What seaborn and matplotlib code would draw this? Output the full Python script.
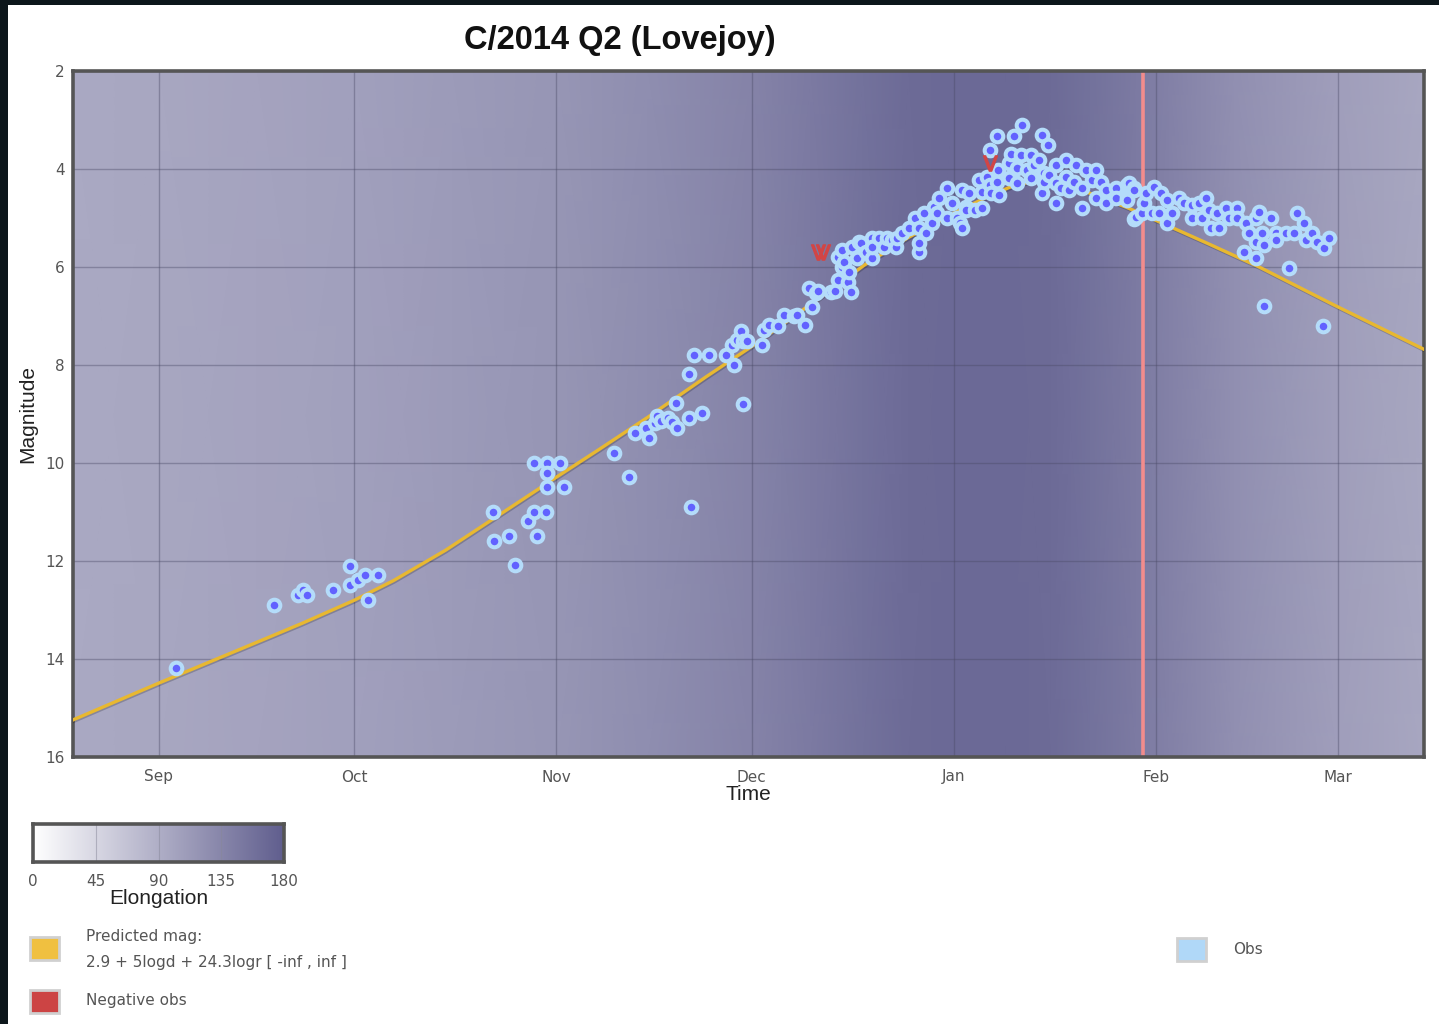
import matplotlib
matplotlib.use("Agg")
import matplotlib.pyplot as plt
import matplotlib.dates as mdates
import matplotlib.patheffects as pe
from matplotlib.colors import LinearSegmentedColormap
from matplotlib.patches import Rectangle
import numpy as np
import pandas as pd
import seaborn as sns

# days counted from 2014-09-01
base = pd.Timestamp("2014-09-01")
day_min, day_max = -13.2, 194.2

obs_day = [
    2.6, 17.6, 21.3, 22.1, 22.7, 26.7, 29.4, 29.4, 30.5, 31.7, 32.1, 33.6,
    51.2, 51.5, 53.7, 54.6, 56.6, 57.5, 57.5, 58.1, 59.4, 59.5, 59.5, 59.5, 61.5, 62.1,
    69.9, 72.2, 73.0, 74.8, 75.2, 76.1, 76.5, 77.1, 78.1, 78.7, 79.4, 79.6, 81.3, 81.4, 81.6, 82.2, 83.3, 84.5,
    87.0, 88.0, 88.3, 88.8, 89.4, 89.6, 89.7, 90.2, 92.5, 92.9, 93.7, 95.1, 95.9, 97.5, 98.0, 99.2, 99.8, 100.2, 100.9,
    101.1, 103.2, 103.8, 104.3, 104.3, 104.8, 104.9, 105.2, 105.7, 106.0, 106.3, 106.4, 107.2, 107.4, 107.8,
    108.6, 109.4, 109.4, 109.5, 110.6, 111.3, 111.8, 112.6, 113.2, 113.3, 114.1, 115.2, 116.0, 116.6, 116.6,
    116.7, 117.5, 117.8, 118.6, 119.0, 119.5, 119.8, 120.9, 120.9, 121.8, 122.5, 122.9, 123.3, 123.3, 123.9, 123.9,
    124.4, 125.2, 125.9, 126.4, 126.4, 127.1, 127.5, 127.6, 127.8, 128.7, 128.7, 128.8, 129.0, 130.5, 130.5,
    130.8, 131.3, 131.7, 131.7, 132.4, 132.5, 133.3, 133.9, 133.9, 134.4, 135.1, 135.6, 135.6, 135.9, 135.9,
    136.5, 136.7, 137.7, 137.7, 137.7, 138.5, 139.3, 139.3, 139.7, 140.5, 140.8, 141.7, 141.7, 142.3, 143.3,
    143.9, 143.9, 144.6, 145.4, 145.4, 146.9, 146.9, 148.6, 148.6, 148.6, 148.9, 149.7, 149.7, 149.7, 150.0,
    150.9, 151.2, 151.5, 152.5, 152.8, 153.5, 153.8, 154.8, 154.8, 155.5, 156.6, 157.4, 158.6, 158.6, 159.7,
    160.1, 160.7, 161.2, 161.5, 162.4, 162.7, 163.8, 164.3, 165.5, 165.5, 166.6, 166.9, 167.3, 168.4, 168.4,
    168.4, 168.9, 169.3, 169.6, 169.6, 170.7, 171.5, 171.5, 173.0, 173.5, 174.2, 174.7, 175.8, 176.1, 177.0,
    177.8, 178.7, 178.8, 179.6,
]
obs_mag = [
    14.18, 12.90, 12.69, 12.59, 12.69, 12.59, 12.10, 12.49, 12.39, 12.29, 12.80, 12.29,
    11.00, 11.59, 11.49, 12.08, 11.18, 10.00, 11.00, 11.49, 11.00, 10.00, 10.20, 10.49, 10.00, 10.49,
    9.80, 10.29, 9.39, 9.29, 9.49, 9.18, 9.04, 9.14, 9.08, 9.16, 8.78, 9.29, 9.08, 8.18, 10.90, 7.80, 8.98, 7.80,
    7.80, 7.59, 8.00, 7.49, 7.31, 8.80, 7.51, 7.51, 7.59, 7.29, 7.18, 7.20, 6.98, 7.00, 6.98, 7.18, 6.43, 6.82, 6.53,
    6.49, 6.51, 6.49, 5.80, 6.27, 6.00, 5.65, 5.90, 6.31, 6.10, 6.51, 5.59, 5.82, 5.49, 5.51,
    5.69, 5.82, 5.41, 5.59, 5.41, 5.59, 5.41, 5.45, 5.59, 5.41, 5.31, 5.20, 5.00, 5.20, 5.69,
    5.51, 4.90, 5.31, 5.10, 4.78, 4.90, 4.59, 5.00, 4.39, 4.69, 5.00, 5.10, 5.20, 4.43, 4.78, 4.84,
    4.49, 4.84, 4.22, 4.80, 4.47, 4.16, 4.33, 3.61, 4.49, 3.33, 4.27, 4.02, 4.53, 3.88, 4.18,
    3.69, 3.33, 3.98, 4.29, 3.71, 3.10, 4.02, 3.71, 4.18, 3.92, 3.82, 3.31, 4.49, 4.08, 4.27,
    3.51, 4.12, 3.92, 4.29, 4.69, 4.39, 3.82, 4.16, 4.43, 4.27, 3.92, 4.39, 4.80, 4.02, 4.22,
    4.02, 4.59, 4.27, 4.43, 4.69, 4.39, 4.59, 4.59, 4.33, 4.63, 4.29, 4.39, 4.43, 5.02, 4.98,
    4.90, 4.69, 4.49, 4.90, 4.37, 4.90, 4.49, 5.10, 4.63, 4.90, 4.59, 4.69, 4.73, 5.00, 4.69,
    5.00, 4.59, 4.84, 5.20, 4.90, 5.20, 4.80, 5.00, 4.80, 5.00, 5.69, 5.10, 5.31, 5.00, 5.49,
    5.82, 4.88, 5.31, 5.55, 6.80, 5.00, 5.31, 5.45, 5.31, 6.02, 5.31, 4.90, 5.10, 5.45, 5.31,
    5.49, 7.20, 5.61, 5.41,
]

neg_day = [101.1, 102.0, 127.5]
neg_mag = [5.69, 5.69, 3.88]

pred_day = [-13.5, 0, 15, 22, 30, 36, 44, 51.2, 61, 67.6, 75, 84, 91, 100.9, 108.3, 115, 122,
            127, 131, 135, 139, 143, 148.5, 154.6, 161, 168.9, 180, 194.5]
pred_mag = [15.26, 14.49, 13.66, 13.27, 12.80, 12.40, 11.78, 11.15, 10.29, 9.72, 9.07, 8.24, 7.62,
            6.68, 5.96, 5.40, 4.90, 4.58, 4.35, 4.22, 4.30, 4.50, 4.78, 5.14, 5.52, 6.00, 6.75, 7.70]

elong_day = [-14, 0, 15, 30, 45, 61, 75, 91, 100, 108, 115, 122, 130, 137, 143, 150, 155, 165, 181, 195]
elong_deg = [96, 98, 102, 106, 112, 118, 126, 138, 148, 158, 165, 168, 168, 165, 158, 148, 140, 125, 108, 98]

perihelion_day = 151.1
elong_ticks = [0, 45, 90, 135, 180]

W, H = 1439, 1024
sns.set_style("white")
plt.rcParams["font.family"] = ["DejaVu Sans"]

fig = plt.figure(figsize=(W / 100, H / 100), dpi=100, facecolor="#0c161b")
fig.patches.append(Rectangle((8 / W, 0), 1, 1 - 5 / H, transform=fig.transFigure,
                             facecolor="white", edgecolor="none", zorder=-10))

pos = [73 / W, 1 - 757 / H, (1424 - 73) / W, (757 - 71) / H]

# elongation background on its own axes (plain day numbers)
cmap = LinearSegmentedColormap.from_list("elong", ["#ffffff", "#605e8e"])
bg = fig.add_axes(pos, zorder=0)
X, Y = np.meshgrid(elong_day, [0, 1])
C = np.vstack([elong_deg, elong_deg])
bg.pcolormesh(X, Y, C, cmap=cmap, vmin=0, vmax=180, shading="gouraud")
bg.set_xlim(day_min, day_max)
bg.set_ylim(0, 1)
bg.set_axis_off()

ax = fig.add_axes(pos, zorder=1)
ax.patch.set_alpha(0)

obs = pd.DataFrame({"date": base + pd.to_timedelta(obs_day, unit="D"), "mag": obs_mag})
pred = pd.DataFrame({"date": base + pd.to_timedelta(pred_day, unit="D"), "mag": pred_mag})

sns.lineplot(data=pred, x="date", y="mag", ax=ax, color="#e8b830", lw=2.4, zorder=3,
             path_effects=[pe.SimpleLineShadow(offset=(0.6, -1), alpha=0.2), pe.Normal()])
sns.scatterplot(data=obs, x="date", y="mag", ax=ax, s=70, color="#6262ff",
                edgecolor="#b4dcfa", linewidth=2.9, zorder=5, legend=False)
neg_dates = base + pd.to_timedelta(neg_day, unit="D")
ax.scatter(neg_dates, neg_mag, marker=r"$\mathsf{V}$", s=120, color="#d24545", zorder=6)

peri = base + pd.Timedelta(days=perihelion_day)
ax.axvline(peri, color="#f28c8c", lw=2.6, zorder=2)

ax.set_xlim(base + pd.Timedelta(days=day_min), base + pd.Timedelta(days=day_max))
ax.set_ylim(16, 2)
ax.set_yticks(range(2, 17, 2))
ax.xaxis.set_major_locator(mdates.MonthLocator())
ax.xaxis.set_major_formatter(mdates.DateFormatter("%b"))
ax.grid(True, color="#4a4a66", alpha=0.4, lw=1)
ax.tick_params(length=0, labelsize=11, labelcolor="#555555")
ax.tick_params(axis="x", pad=9)
ax.tick_params(axis="y", pad=6)
ax.set_xlabel("")
ax.set_ylabel("")
for s in ax.spines.values():
    s.set_color("#555555")
    s.set_linewidth(2.6)
    s.set_visible(True)

fig.text(620 / W, 1 - 40 / H, "C/2014 Q2 (Lovejoy)", ha="center", va="center",
         fontsize=23.5, fontweight="bold", family="Liberation Sans", color="#111111")
fig.text(748 / W, 1 - 795 / H, "Time", ha="center", va="center", fontsize=15,
         family="Liberation Sans", color="#222222")
fig.text(28 / W, 1 - 414 / H, "Magnitude", ha="center", va="center", fontsize=15,
         rotation=90, family="Liberation Sans", color="#222222")

# elongation colour bar
cax = fig.add_axes([33 / W, 1 - 862 / H, 251 / W, 38 / H])
cax.imshow(np.linspace(0, 180, 256).reshape(1, -1), cmap=cmap, vmin=0, vmax=180,
           aspect="auto", extent=(0, 180, 0, 1))
for v in elong_ticks[1:-1]:
    cax.axvline(v, color="#888899", lw=0.8, alpha=0.5)
cax.set_xticks(elong_ticks)
cax.set_yticks([])
cax.tick_params(length=0, labelsize=11, labelcolor="#555555", pad=9)
for s in cax.spines.values():
    s.set_color("#555555")
    s.set_linewidth(2.6)
    s.set_visible(True)
fig.text(159 / W, 1 - 899 / H, "Elongation", ha="center", va="center", fontsize=15,
         family="Liberation Sans", color="#222222")

# legend boxes
legend_boxes = [(30, 937, "#f0c040"), (30, 990, "#cc4444"), (1177, 938, "#b0d8f8")]
for x0, y0, c in legend_boxes:
    fig.patches.append(Rectangle((x0 / W, 1 - (y0 + 23) / H), 29 / W, 23 / H,
                                 transform=fig.transFigure, facecolor=c,
                                 edgecolor="#d0d0d0", lw=2, zorder=2))
fig.text(86 / W, 1 - 937 / H, "Predicted mag:", ha="left", va="center", fontsize=11, color="#555555")
fig.text(86 / W, 1 - 963 / H, "2.9 + 5logd + 24.3logr [ -inf , inf ]", ha="left", va="center",
         fontsize=11, color="#555555")
fig.text(86 / W, 1 - 1001 / H, "Negative obs", ha="left", va="center", fontsize=11, color="#555555")
fig.text(1233 / W, 1 - 949 / H, "Obs", ha="left", va="center", fontsize=11, color="#555555")

fig.savefig("out.png", dpi=100, facecolor=fig.get_facecolor())
